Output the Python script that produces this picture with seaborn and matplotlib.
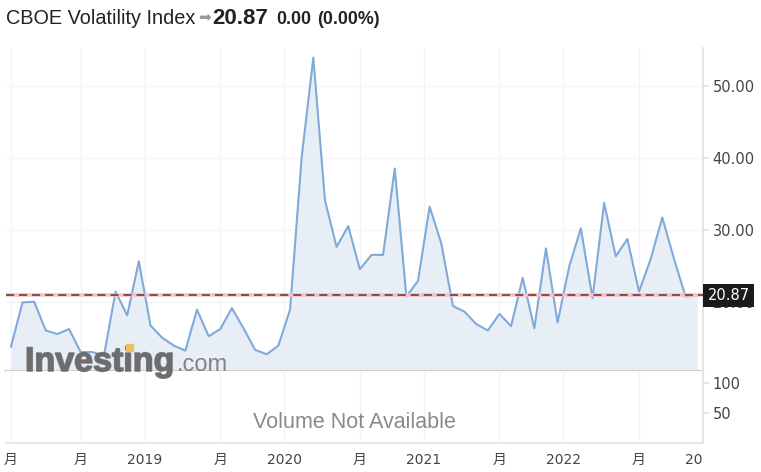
import numpy as np
import pandas as pd
import matplotlib
matplotlib.use("Agg")
import matplotlib.pyplot as plt
import matplotlib.patheffects as pe
import seaborn as sns
from matplotlib.patches import Rectangle

# ===============================
# Data: CBOE VIX monthly closes, Jan 2018 .. Dec 2022
# ===============================
months = pd.date_range("2018-01-01", periods=60, freq="MS").strftime("%Y-%m").tolist()
vix = [13.7, 19.9, 20.0, 16.0, 15.5, 16.2, 13.0, 13.0, 12.5, 21.4, 18.1, 25.6,
       16.7, 15.0, 13.9, 13.2, 18.9, 15.2, 16.2, 19.1, 16.3, 13.3, 12.7, 13.9,
       18.9, 40.1, 53.9, 34.1, 27.6, 30.5, 24.5, 26.5, 26.5, 38.5, 20.7, 22.9,
       33.2, 28.1, 19.4, 18.6, 16.9, 16.0, 18.3, 16.6, 23.3, 16.3, 27.4, 17.1,
       24.9, 30.2, 20.5, 33.7, 26.3, 28.7, 21.4, 25.9, 31.7, 26.0, 20.7, 20.87]
last_close = 20.87
change = 0.00
change_pct = 0.00

tick_pos = [0, 6, 11.5, 18, 23.5, 30, 35.5, 42, 47.5, 54, 59.5]
tick_labels = ["月", "月", "2019", "月", "2020", "月", "2021", "月", "2022", "月", "20"]
price_ticks = [20, 30, 40, 50]
volume_ticks = [50, 100]

df = pd.DataFrame({"i": np.arange(len(vix)), "month": months, "vix": vix})

# ===============================
# Figure
# ===============================
sns.set_theme(style="white")
plt.rcParams["font.family"] = ["DejaVu Sans", "Noto Sans CJK SC"]
plt.rcParams["lines.scale_dashes"] = False

W, H = 761, 472
fig = plt.figure(figsize=(W / 100, H / 100), dpi=100)


def px_axes(l, t, r, b):
    return fig.add_axes([l / W, 1 - b / H, (r - l) / W, (b - t) / H])


ax = px_axes(6, 48, 703, 371)
axv = px_axes(6, 371, 703, 443)

grid_c = "#f1f3f6"
axis_c = "#e0e3eb"
label_c = "#444444"

# price panel
ax.fill_between(df["i"], df["vix"], 0, color="#e8eef6", zorder=1, lw=0)
sns.lineplot(data=df, x="i", y="vix", ax=ax, color="#80aad9", lw=1.5, zorder=3)
ax.axhline(last_close, color="#f6c2c2", lw=2.6, zorder=4)
ax.axhline(last_close, color="#7a4444", lw=1.3, dashes=(5.8, 3.6), zorder=5)

ax.set_xlim(-0.42, 59.5)
ax.set_ylim(10.37, 55.24)
ax.set_xticks(tick_pos)
ax.set_xticklabels([])
ax.yaxis.tick_right()
ax.set_yticks(price_ticks)
ax.set_yticklabels([f"{t:.2f}" for t in price_ticks])
ax.tick_params(axis="x", length=0)
ax.tick_params(axis="y", length=4, color=axis_c, labelsize=10.5, labelcolor=label_c, pad=3)
ax.grid(True, color=grid_c, lw=1)
ax.set_axisbelow(True)
ax.set_xlabel("")
ax.set_ylabel("")
for s in ["left", "top"]:
    ax.spines[s].set_visible(False)
ax.spines["right"].set_color(axis_c)
ax.spines["bottom"].set_color("#cfcfcf")
ax.spines["bottom"].set_linewidth(1.6)

ax.annotate(f"{last_close:.2f}", xy=(1, last_close), xycoords=("axes fraction", "data"),
            xytext=(3.2, 0), textcoords="offset points", ha="left", va="center",
            color="white", fontsize=10.5,
            bbox=dict(boxstyle="square,pad=0.3", fc="#1b1b1b", ec="none"),
            annotation_clip=False, zorder=10)

# volume panel
axv.set_xlim(-0.42, 59.5)
axv.set_ylim(0, 120)
axv.set_xticks(tick_pos)
axv.set_xticklabels(tick_labels)
axv.get_xticklabels()[-1].set_ha("right")
axv.yaxis.tick_right()
axv.set_yticks(volume_ticks)
axv.set_yticklabels([str(t) for t in volume_ticks])
axv.tick_params(axis="x", length=5, color=axis_c, labelsize=10, labelcolor=label_c, pad=2.5)
axv.tick_params(axis="y", length=4, color=axis_c, labelsize=10.5, labelcolor=label_c, pad=3)
axv.grid(True, axis="x", color=grid_c, lw=1)
for s in ["left", "top"]:
    axv.spines[s].set_visible(False)
axv.spines["right"].set_color(axis_c)
axv.spines["bottom"].set_color(axis_c)
axv.text(0.5, 0.28, "Volume Not Available", transform=axv.transAxes, ha="center", va="center",
         fontsize=15.5, color="#8a8a8a", family="Liberation Sans")

# watermark
thick = [pe.withStroke(linewidth=1.2, foreground="#6a6a6a")]
fig.text(25 / W, 1 - 371 / H, "Investing", fontsize=24.5, fontweight="bold",
         family="Liberation Sans", color="#6a6a6a", alpha=0.82, va="baseline",
         path_effects=thick)
fig.text(177 / W, 1 - 371 / H, ".com", fontsize=17, family="Liberation Sans",
         color="#777777", alpha=0.9, va="baseline")
fig.patches.append(Rectangle((126 / W, 1 - 351 / H), 7 / W, 7 / H, transform=fig.transFigure,
                             color="#f0c060", zorder=5))

# title
ty = 1 - 24 / H
fig.text(6 / W, ty, "CBOE Volatility Index", fontsize=14.3, family="Liberation Sans",
         color="#222222", va="baseline")
fig.text(198 / W, 1 - 17 / H, "➡", fontsize=11, color="#9a9a9a", va="center")
fig.text(212 / W, ty, f"{last_close:.2f}", fontsize=16, fontweight="bold",
         family="Liberation Sans", color="#222222", va="baseline")
fig.text(276 / W, ty, f"{change:.2f}", fontsize=12.8, fontweight="bold",
         family="Liberation Sans", color="#222222", va="baseline")
fig.text(317 / W, ty, f"({change_pct:.2f}%)", fontsize=12.8, fontweight="bold",
         family="Liberation Sans", color="#222222", va="baseline")

fig.savefig("out.png", dpi=100)
